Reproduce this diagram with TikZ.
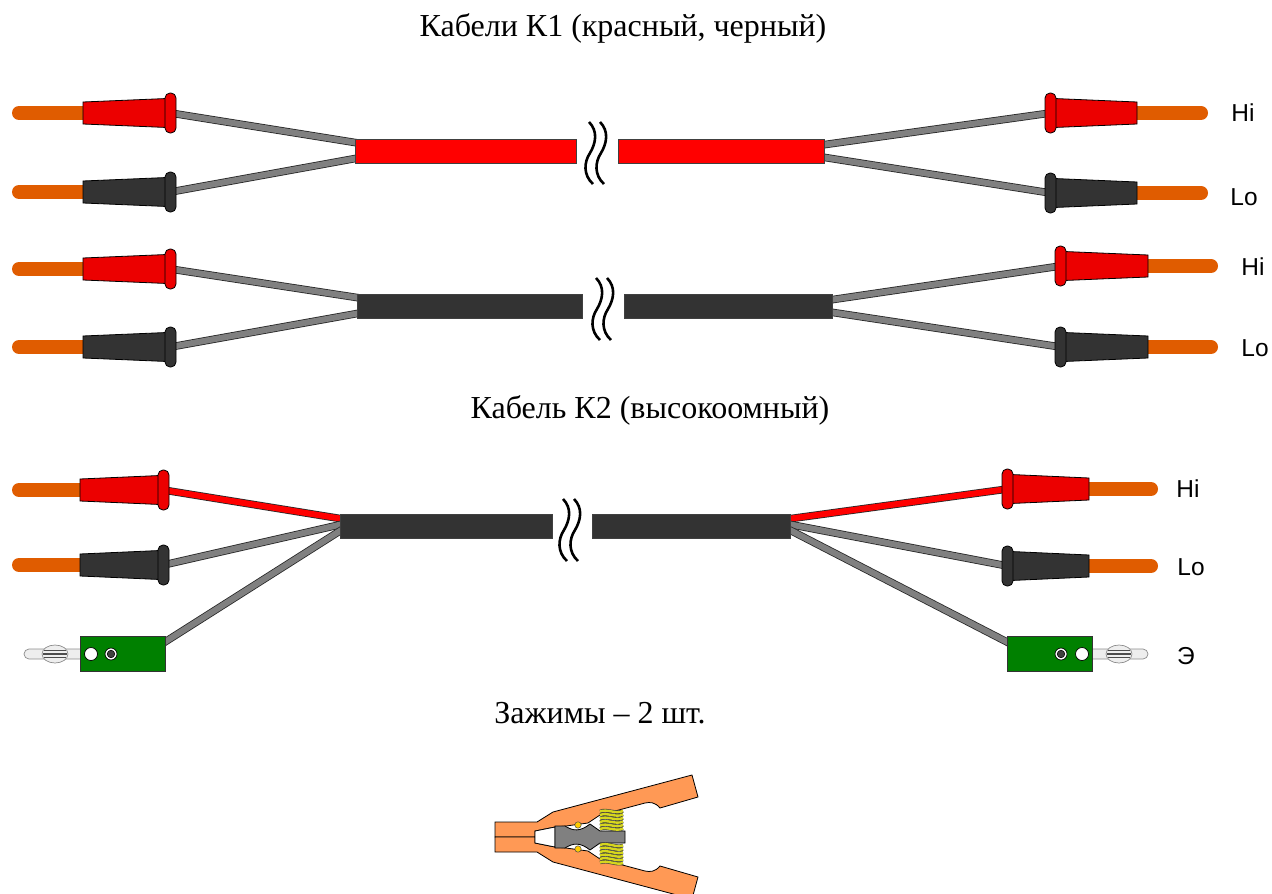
\documentclass[tikz,border=0pt]{standalone}
\usepackage{fontspec}
\setmainfont{Liberation Serif}
\newfontfamily\labfont{Liberation Sans}
\usetikzlibrary{calc}

\definecolor{tipor}{RGB}{224,92,0}
\definecolor{plugred}{RGB}{236,0,0}
\definecolor{plugblk}{RGB}{51,51,51}
\definecolor{cabred}{RGB}{255,0,0}
\definecolor{cabblk}{RGB}{51,51,51}
\definecolor{wiregray}{RGB}{128,128,128}
\definecolor{grn}{RGB}{0,128,0}
\definecolor{clamp}{RGB}{255,153,85}
\definecolor{dotyel}{RGB}{255,204,0}
\definecolor{springcol}{RGB}{214,214,30}
\definecolor{pinfill}{RGB}{238,238,238}

\pgfdeclarelayer{back}
\pgfsetlayers{back,main}

\tikzset{
  tipline/.style={draw=tipor, line width=14pt, line cap=round},
  plugbody/.style={draw=black, line width=0.8pt},
  collar/.style={draw=black, line width=0.8pt, rounded corners=5pt,
    minimum width=11pt, minimum height=40pt, inner sep=0pt},
  cable/.style={draw=black!75, line width=0.8pt, inner sep=0pt,
    minimum height=24pt, anchor=west},
  wire/.style={draw=black!85, line width=0.8pt, double=wiregray, double distance=6pt},
  redwire/.style={wire, double=cabred},
  brk/.style={draw=black, line width=2.6pt},
  lab/.style={font=\labfont\fontsize{24.5}{26}\selectfont},
  ttl/.style={font=\fontsize{32}{34}\selectfont},
  gbox/.style={draw=black!80, fill=grn, line width=0.8pt, inner sep=0pt,
    minimum width=85pt, minimum height=35pt},
  pin/.style={draw=black!45, fill=pinfill, line width=0.7pt},
  stripe/.style={draw=black!70, line width=1.4pt},
  clampline/.style={draw=black, line width=0.8pt, fill=clamp},
  spring/.style={draw=black!75, line width=0.6pt, double=springcol, double distance=2.4pt},
}

% plug with its tip on the left: name, y, tip-left, body-left, collar-left, colour
\newcommand\lplug[6]{%
  \draw[tipline] ({#3+7},#2) -- ({#4+2},#2);
  \filldraw[plugbody, fill=#6] (#4,{#2-11}) -- ({#5+2},{#2-14.5}) -- ({#5+2},{#2+14.5}) -- (#4,{#2+11}) -- cycle;
  \node[collar, fill=#6] (#1) at ({#5+5.5},#2) {};
}
% plug with its tip on the right: name, y, tip-right, body-right, collar-right, colour
\newcommand\rplug[6]{%
  \draw[tipline] ({#3-7},#2) -- ({#4-2},#2);
  \filldraw[plugbody, fill=#6] (#4,{#2-11}) -- ({#5-2},{#2-14.5}) -- ({#5-2},{#2+14.5}) -- (#4,{#2+11}) -- cycle;
  \node[collar, fill=#6] (#1) at ({#5-5.5},#2) {};
}
% wavy break mark of a cable: x, centre y
\newcommand\brkmark[2]{%
  \draw[brk] (#1,{#2-31}) .. controls ({#1+9},{#2-22}) and ({#1+7},{#2-10}) .. ({#1+1},{#2})
    .. controls ({#1-5},{#2+9}) and ({#1-6},{#2+22}) .. ({#1+4},{#2+31});
}

\begin{document}
\begin{tikzpicture}[x=1pt,y=-1pt]
\useasboundingbox (0,0) rectangle (1272,894);

% ---------- titles ----------
\node[ttl] (t1) at (623,28) {Кабели К1 (красный, черный)};
\node[ttl] (t2) at (650,410) {Кабель К2 (высокоомный)};
\node[ttl] (t3) at (600,713) {Зажимы – 2 шт.};

% ---------- cable K1, red ----------
\lplug{a1}{113}{12}{83}{165}{plugred}
\lplug{a2}{192}{12}{83}{165}{plugblk}
\rplug{b1}{113}{1208}{1137}{1056}{plugred}
\rplug{b2}{193}{1208}{1137}{1056}{plugblk}
\node[cable, fill=cabred, minimum width=221pt] (c1L) at (355,151) {};
\node[cable, fill=cabred, minimum width=206pt] (c1R) at (618,151) {};
\brkmark{589}{153}
\brkmark{600}{153}
\begin{pgfonlayer}{back}
  \draw[wire] (a1.center) -- ($(c1L.west)+(3,-8)$);
  \draw[wire] (a2.center) -- ($(c1L.west)+(3,7)$);
  \draw[wire] ($(c1R.east)+(-3,-6)$) -- (b1.center);
  \draw[wire] ($(c1R.east)+(-3,6)$) -- (b2.center);
\end{pgfonlayer}
\node[lab] (l1) at (1243,113) {Hi};
\node[lab] (l2) at (1244,197) {Lo};

% ---------- cable K1, black ----------
\lplug{a3}{269}{12}{83}{165}{plugred}
\lplug{a4}{347}{12}{83}{165}{plugblk}
\rplug{b3}{266}{1218}{1148}{1066}{plugred}
\rplug{b4}{347}{1218}{1148}{1066}{plugblk}
\node[cable, fill=cabblk, minimum width=225pt] (c2L) at (357,306) {};
\node[cable, fill=cabblk, minimum width=208pt] (c2R) at (624,306) {};
\brkmark{596}{309}
\brkmark{607}{309}
\begin{pgfonlayer}{back}
  \draw[wire] (a3.center) -- ($(c2L.west)+(3,-8)$);
  \draw[wire] (a4.center) -- ($(c2L.west)+(3,7)$);
  \draw[wire] ($(c2R.east)+(-3,-6)$) -- (b3.center);
  \draw[wire] ($(c2R.east)+(-3,6)$) -- (b4.center);
\end{pgfonlayer}
\node[lab] (l3) at (1253,267) {Hi};
\node[lab] (l4) at (1255,348) {Lo};

% ---------- cable K2 ----------
\lplug{a5}{490}{12}{80}{158}{plugred}
\lplug{a6}{565}{12}{80}{158}{plugblk}
\rplug{b5}{489}{1158}{1089}{1013}{plugred}
\rplug{b6}{566}{1158}{1089}{1013}{plugblk}
\node[cable, fill=cabblk, minimum width=212pt] (c3L) at (340,526) {};
\node[cable, fill=cabblk, minimum width=198pt] (c3R) at (592,526) {};
\brkmark{563}{530}
\brkmark{574}{530}

% green earth connectors with banana pins
\filldraw[pin] (81,649) -- (29,649) arc[start angle=90, end angle=270, radius=5pt] -- (81,659) -- cycle;
\filldraw[pin] (55,654) ellipse [x radius=13pt, y radius=9pt];
\draw[stripe] (44,650.5) -- (66,650.5) (43,654) -- (67,654) (44,657.5) -- (66,657.5);
\node[gbox] (g1) at (122.5,653.5) {};
\filldraw[draw=black, fill=white, line width=0.7pt] (91,654) circle (6.5pt);
\filldraw[draw=black, fill=white, line width=0.7pt] (111,654) circle (6pt);
\filldraw[draw=black, fill=black!75, line width=0.5pt] (111,654) circle (3.8pt);

\filldraw[pin] (1092,649) -- (1143,649) arc[start angle=90, end angle=-90, radius=5pt] -- (1092,659) -- cycle;
\filldraw[pin] (1119,654) ellipse [x radius=13pt, y radius=9pt];
\draw[stripe] (1108,650.5) -- (1130,650.5) (1107,654) -- (1131,654) (1108,657.5) -- (1130,657.5);
\node[gbox] (g2) at (1050,653.5) {};
\filldraw[draw=black, fill=white, line width=0.7pt] (1082,654) circle (6.5pt);
\filldraw[draw=black, fill=white, line width=0.7pt] (1061,654) circle (6pt);
\filldraw[draw=black, fill=black!75, line width=0.5pt] (1061,654) circle (3.8pt);

\begin{pgfonlayer}{back}
  \draw[redwire] (a5.center) -- ($(c3L.west)+(3,-7)$);
  \draw[wire] (a6.center) -- ($(c3L.west)+(3,-2)$);
  \draw[wire] ($(g1.north east)+(-3,8)$) -- ($(c3L.west)+(3,3)$);
  \draw[redwire] ($(c3R.east)+(-3,-7)$) -- (b5.center);
  \draw[wire] ($(c3R.east)+(-3,-2)$) -- (b6.center);
  \draw[wire] ($(c3R.east)+(-3,3)$) -- ($(g2.north west)+(3,8)$);
\end{pgfonlayer}
\node[lab] (l5) at (1188,489) {Hi};
\node[lab] (l6) at (1191,567) {Lo};
\node[lab] (l7) at (1186,656) {Э};

% ---------- crocodile clamp ----------
\def\clamparm{(495,822) -- (537,822) -- (553,812) -- (692,775) -- (698,797) -- (660,808)
  .. controls (655,802) and (650,802) .. (645,803) -- (600,815) -- (588,823) -- (566,826)
  -- (555,827) -- (535,831) -- (535,837) -- (495,837) -- cycle}
\filldraw[clampline] \clamparm;
\begin{scope}[shift={(0,1674)}, yscale=-1]
  \filldraw[clampline] \clamparm;
\end{scope}
\filldraw[draw=black, fill=white, line width=0.8pt] (535,831) -- (555,827) -- (555,847) -- (535,843) -- cycle;
\filldraw[draw=black, fill=wiregray, line width=0.8pt]
  (555,826) -- (565,826) .. controls (573,831) and (580,832) .. (590,824) -- (600,831)
  -- (625,831) -- (625,843) -- (600,843) -- (590,850)
  .. controls (580,842) and (573,843) .. (565,848) -- (555,848) -- cycle;
% coil springs between the arms
\foreach \yy in {811.5,815,818.5,822,825.5,829}
  \draw[spring] (600,\yy) .. controls (607,{\yy-3}) and (616,{\yy+3}) .. (623,{\yy-0.5});
\foreach \yy in {845,848.5,852,855.5,859,862.5}
  \draw[spring] (600,\yy) .. controls (607,{\yy-3}) and (616,{\yy+3}) .. (623,{\yy+0.5});
\filldraw[draw=black!70, fill=dotyel, line width=0.5pt] (578,825) circle (3.2pt);
\filldraw[draw=black!70, fill=dotyel, line width=0.5pt] (578,849) circle (3.2pt);
\end{tikzpicture}
\end{document}
